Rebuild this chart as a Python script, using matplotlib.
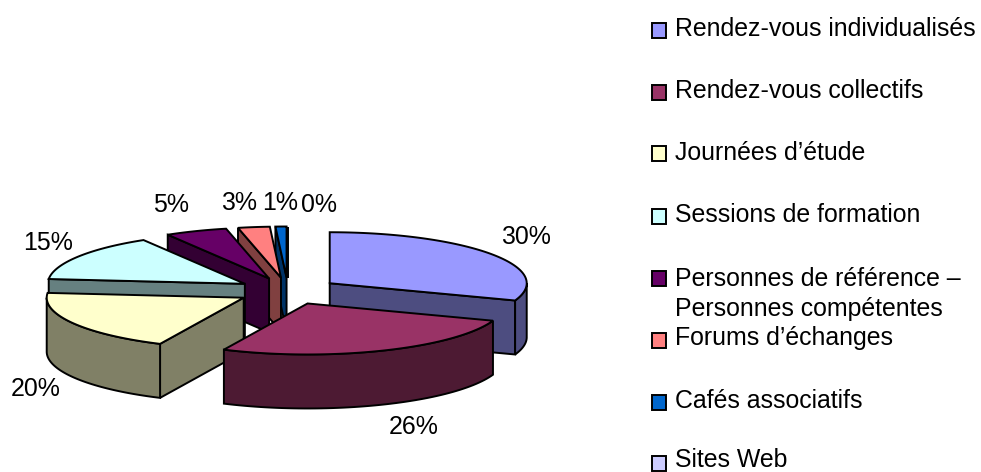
import numpy as np
import matplotlib
matplotlib.use("Agg")
import matplotlib.pyplot as plt
from matplotlib.patches import Polygon, Rectangle

# ---- data ----
categories = ["Rendez-vous individualisés", "Rendez-vous collectifs", "Journées d’étude",
              "Sessions de formation", "Personnes de référence –\nPersonnes compétentes",
              "Forums d’échanges", "Cafés associatifs", "Sites Web"]
values = [30.49, 26.49, 19.52, 14.9, 5.1, 2.6, 0.9, 0]
top_colors = ["#9999FF", "#993366", "#FFFFCC", "#CCFFFF", "#660066", "#FF8080", "#0066CC", "#CCCCFF"]
side_colors = ["#4D4D80", "#4D1A33", "#808066", "#668080", "#330033", "#804040", "#003366", "#666680"]

# ---- layout (pixels) ----
W, H = 981, 472
CX, CY = 288, 291      # pie centre
A, B = 197, 51         # ellipse semi-axes
EXPL_X, EXPL_Y = 51, 13.5
DEPTH = 54
LW = 1.4
FONT = "Liberation Sans"
FS = 17.9
TEXT_DY = 1.5
label_xy = [(526, 236), (414, 425), (36, 388), (48, 242), (171, 203), (239, 202), (280, 202), (319, 204)]
legend_y = [28, 90, 152, 213, 292.5, 337, 399, 458.5]
legend_box_y = [30, 92, 153, 216, 278, 340, 402, 463]

fig = plt.figure(figsize=(W / 100, H / 100), dpi=100)
ax = fig.add_axes([0, 0, 1, 1])
ax.set_xlim(0, W)
ax.set_ylim(H, 0)
ax.axis("off")

total = sum(values)
edges = np.concatenate([[0], np.cumsum(values)]) / total * 360.0


def rim(apex, th_deg):
    t = np.radians(th_deg)
    return np.column_stack([apex[0] + A * np.sin(t), apex[1] - B * np.cos(t)])


def face(pts, color, z):
    ax.add_patch(Polygon(pts, closed=True, facecolor=color, edgecolor="black",
                         linewidth=LW, joinstyle="miter", zorder=z))


mids = (edges[:-1] + edges[1:]) / 2
order = sorted(range(len(values)), key=lambda i: -np.cos(np.radians(mids[i])))
for z, i in enumerate(order):
    s, e, m = edges[i], edges[i + 1], np.radians(mids[i])
    apex = (CX + EXPL_X * np.sin(m), CY - EXPL_Y * np.cos(m))
    zb = 2 + z * 0.1
    down = np.array([0, DEPTH])
    if 0 < e < 180:  # end cut face
        p = rim(apex, [e])[0]
        face([apex, p, p + down, np.array(apex) + down], side_colors[i], zb)
    if 180 < s < 360:  # start cut face
        p = rim(apex, [s])[0]
        face([apex, p, p + down, np.array(apex) + down], side_colors[i], zb)
    lo, hi = max(s, 90), min(e, 270)
    if hi > lo:  # outer wall
        arc = rim(apex, np.linspace(lo, hi, 60))
        face(np.vstack([arc, arc[::-1] + down]), side_colors[i], zb + 0.01)
    arc = rim(apex, np.linspace(s, e, 90))
    face(np.vstack([[apex], arc]), top_colors[i], zb + 0.02)

for v, (x, y) in zip(values, label_xy):
    ax.text(x, y + TEXT_DY, f"{v:.0f}%", ha="center", va="center", family=FONT, fontsize=FS, color="black", zorder=10)

for name, col, ty, by in zip(categories, top_colors, legend_y, legend_box_y):
    ax.add_patch(Rectangle((651.5, by - 7), 14.5, 14.5, facecolor=col, edgecolor="black", linewidth=LW, zorder=10))
    ax.text(675, ty + TEXT_DY, name, ha="left", va="center", family=FONT, fontsize=FS, color="black",
            linespacing=1.33, zorder=10)

fig.savefig("out.png", dpi=100, facecolor="white")
